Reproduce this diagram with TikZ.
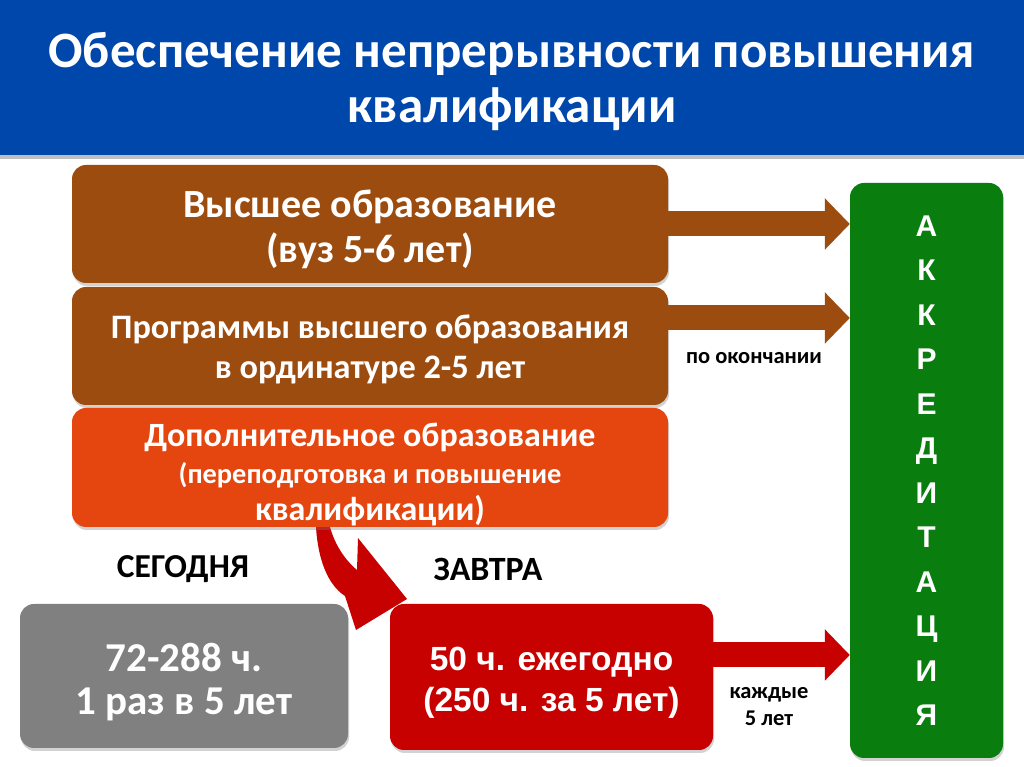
\documentclass[tikz,border=0pt]{standalone}
\usepackage{fontspec}
\setmainfont{Carlito}
\newfontfamily\arialfont{Liberation Sans}
\definecolor{HeadBlue}{rgb}{0.0,0.28,0.67}
\definecolor{Brown}{rgb}{0.61,0.30,0.06}
\definecolor{Orange}{rgb}{0.90,0.27,0.06}
\definecolor{DarkRed}{rgb}{0.78,0.0,0.0}
\definecolor{Green}{rgb}{0.04,0.49,0.06}
\definecolor{Gray}{rgb}{0.50,0.50,0.50}
\usetikzlibrary{positioning, shadows, arrows.meta}

\begin{document}
\begin{tikzpicture}[x=1pt, y=1pt,
    box/.style={rounded corners=14pt, inner sep=0pt,
        drop shadow={opacity=0.35, shadow xshift=1pt, shadow yshift=-3pt}},
    boxtext/.style={align=center, text=white, inner sep=0pt},
    fat/.style={line width=25pt, -{Triangle[length=25pt,width=50pt]}},
    lbl/.style={font=\bfseries\fontsize{22.5}{27}\selectfont, align=center}]
    \useasboundingbox (0,0) rectangle (1024,767);
    \fill [white] (0,0) rectangle (1024,767);
    % header
    \fill [HeadBlue, drop shadow={opacity=0.5, shadow xshift=0pt, shadow yshift=-4pt}] (0,612) rectangle (1024,767);
    \node [text=white, align=center, font=\bfseries\fontsize{51}{55}\selectfont] (title) at (512,685)
        {Обеспечение непрерывности повышения\\квалификации};
    % curved arrow
    \fill [DarkRed] (316,240) .. controls (318,207) and (328,182) .. (345,171) -- (356,137) -- (407,168)
        -- (358,229) -- (357,197) .. controls (345,207) and (335,222) .. (330,240) -- cycle;
    % left boxes
    \node [box, fill=Brown, minimum width=596pt, minimum height=118pt] (high) at (370,543) {};
    \node [boxtext, font=\bfseries\fontsize{40}{45}\selectfont] (highText) at ([yshift=-5pt]high.center)
        {Высшее образование\\(вуз 5-6 лет)};
    \node [box, fill=Brown, minimum width=596pt, minimum height=118pt] (prog) at (370,421) {};
    \node [boxtext, font=\bfseries\fontsize{34.3}{40}\selectfont] (progText) at ([yshift=-3.5pt]prog.center)
        {Программы высшего образования\\в ординатуре 2-5 лет};
    \node [box, fill=Orange, minimum width=596pt, minimum height=119pt] (extra) at (370,299.5) {};
    \node [boxtext, font=\bfseries\fontsize{34}{37}\selectfont] (extraText) at ([yshift=-7pt]extra.center)
        {Дополнительное образование\\
        \fontsize{28.4}{32}\selectfont (переподготовка и повышение\\квалификации)};
    % today / tomorrow
    \node [lbl, font=\bfseries\fontsize{33.5}{36}\selectfont] (today) at (183,198) {СЕГОДНЯ};
    \node [lbl, font=\bfseries\fontsize{34}{36}\selectfont] (tomorrow) at (488,198) {ЗАВТРА};
    \node [box, fill=Gray, minimum width=328pt, minimum height=144pt] (now) at (184,91) {};
    \node [boxtext, font=\bfseries\fontsize{41}{43}\selectfont] (nowText) at ([yshift=-6.5pt]now.center)
        {72-288 ч.\\1 раз в 5 лет};
    \node [box, fill=DarkRed, minimum width=323pt, minimum height=146pt] (next) at (551.5,90) {};
    \node [boxtext, font=\arialfont\bfseries\fontsize{33.5}{41}\selectfont] (nextText) at ([yshift=-6pt]next.center)
        {50 ч. ежегодно\\(250 ч. за 5 лет)};
    % accreditation
    \node [box, fill=Green, minimum width=153pt, minimum height=575pt] (acc) at (926.5,296.5) {};
    \node [boxtext, font=\arialfont\bfseries\fontsize{30}{44.5}\selectfont] (accText) at (acc.center)
        {А\\К\\К\\Р\\Е\\Д\\И\\Т\\А\\Ц\\И\\Я};
    % arrows
    \coordinate (progout) at ([yshift=28pt]prog.east);
    \coordinate (nextout) at ([yshift=22pt]next.east);
    \draw [fat, Brown] (high.east) -- (acc.west |- high.east);
    \draw [fat, Brown] (progout) -- (acc.west |- progout);
    \draw [fat, DarkRed] (nextout) -- (acc.west |- nextout);
    \node [lbl] (after) at (754,409) {по окончании};
    \node [lbl] (every) at (769,60) {каждые\\5 лет};
\end{tikzpicture}
\end{document}
